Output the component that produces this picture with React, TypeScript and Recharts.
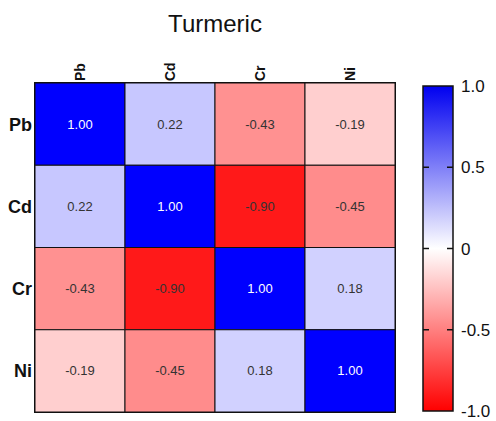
import { BarChart, Bar, XAxis, YAxis, Cell, LabelList, ReferenceArea } from 'recharts';

const title = 'Turmeric';
const elements = ['Pb', 'Cd', 'Cr', 'Ni'];
// correlation matrix, rows top to bottom, columns left to right
const pbRow = [1.0, 0.22, -0.43, -0.19];
const cdRow = [0.22, 1.0, -0.9, -0.45];
const crRow = [-0.43, -0.9, 1.0, 0.18];
const niRow = [-0.19, -0.45, 0.18, 1.0];
const matrix = [pbRow, cdRow, crRow, niRow];

const scaleTicks = [-1, -0.5, 0, 0.5, 1];
const innerTicks = [-0.5, 0, 0.5];
const rowTicks = [0.5, 1.5, 2.5, 3.5];

const FONT = '"Liberation Sans", Arial, Helvetica, sans-serif';

// each cell takes one unit of the stack
const table = elements.map((name) => {
  const d: Record<string, string | number> = { name };
  elements.forEach((r) => (d[r] = 1));
  return d;
});
const scaleData = [{ name: 'scale', span: [-1, 1] }];

function cellColor(v: number) {
  if (v >= 0) {
    const c = Math.round(255 * (1 - v));
    return `rgb(${c},${c},255)`;
  }
  const c = Math.round(255 * (1 + v));
  return `rgb(255,${c},${c})`;
}

function ColumnTick(props: any) {
  const { x, y, payload } = props;
  return (
    <text
      x={x}
      y={y}
      transform={`rotate(-90, ${x}, ${y})`}
      textAnchor="start"
      dominantBaseline="central"
      fontSize={14}
      fontWeight="bold"
      fontFamily={FONT}
      fill="#111"
    >
      {payload.value}
    </text>
  );
}

// gradient bar with small inward tick marks on both sides
function ScaleBar(props: any) {
  const { x, y, width, height } = props;
  const tickLen = 6;
  return (
    <g>
      <rect x={x} y={y} width={width} height={height} fill="url(#corrGrad)" stroke="#111" strokeWidth={1.5} />
      {innerTicks.map((t) => {
        const ty = y + (height * (1 - t)) / 2;
        return (
          <g key={t}>
            <line x1={x} x2={x + tickLen} y1={ty} y2={ty} stroke="#111" strokeWidth={1.5} />
            <line x1={x + width - tickLen} x2={x + width} y1={ty} y2={ty} stroke="#111" strokeWidth={1.5} />
          </g>
        );
      })}
    </g>
  );
}

function Heatmap() {
  return (
    <BarChart
      width={400}
      height={421}
      data={table}
      margin={{ top: 53, right: 5, left: 5, bottom: 9 }}
      barCategoryGap={0}
      barGap={0}
    >
      <XAxis
        dataKey="name"
        orientation="top"
        height={30}
        axisLine={false}
        tickLine={false}
        tickSize={0}
        tickMargin={2}
        interval={0}
        tick={<ColumnTick />}
      />
      <YAxis
        type="number"
        domain={[0, 4]}
        reversed
        ticks={rowTicks}
        width={30}
        axisLine={false}
        tickLine={false}
        tickSize={0}
        tickMargin={3}
        tickFormatter={(v: number) => elements[Math.floor(v)]}
        tick={{ fontSize: 18, fontWeight: 'bold', fill: '#111', fontFamily: FONT }}
      />
      {elements.map((row, i) => (
        <Bar
          key={row}
          dataKey={row}
          stackId="m"
          stroke="#111"
          strokeWidth={1}
          isAnimationActive={false}
        >
          {elements.map((col, j) => (
            <Cell key={col} fill={cellColor(matrix[i][j])} />
          ))}
          <LabelList
            dataKey={row}
            content={(p: any) => {
              const v = matrix[i][p.index];
              return (
                <text
                  x={p.x + p.width / 2}
                  y={p.y + p.height / 2}
                  textAnchor="middle"
                  dominantBaseline="central"
                  fontSize={13}
                  fontFamily={FONT}
                  fill={v > 0.6 ? '#fff' : '#333'}
                >
                  {v.toFixed(2)}
                </text>
              );
            }}
          />
        </Bar>
      ))}
      <ReferenceArea y1={0} y2={4} fill="none" stroke="#111" strokeWidth={2} fillOpacity={0} />
    </BarChart>
  );
}

function ColorScale() {
  return (
    <BarChart
      width={86}
      height={421}
      data={scaleData}
      margin={{ top: 86, right: 2, left: 13, bottom: 10 }}
      barCategoryGap={0}
    >
      <defs>
        <linearGradient id="corrGrad" x1="0" y1="0" x2="0" y2="1">
          <stop offset="0%" stopColor="#0000f0" />
          <stop offset="50%" stopColor="#ffffff" />
          <stop offset="100%" stopColor="#ff0000" />
        </linearGradient>
      </defs>
      <XAxis dataKey="name" hide />
      <Bar dataKey="span" shape={<ScaleBar />} isAnimationActive={false} />
      <YAxis
        orientation="right"
        type="number"
        domain={[-1, 1]}
        ticks={scaleTicks}
        width={41}
        axisLine={false}
        tickLine={false}
        tickSize={0}
        tickMargin={8}
        tickFormatter={(v: number) => (v === 0 ? '0' : v.toFixed(1))}
        tick={{ fontSize: 17, fill: '#111', fontFamily: FONT, textAnchor: 'start' }}
      />
    </BarChart>
  );
}

export default function App() {
  return (
    <div style={{ position: 'absolute', left: 0, top: 0, width: 496, height: 421, background: '#fff' }}>
      <div
        style={{
          position: 'absolute',
          left: 0,
          top: 12,
          width: 430,
          textAlign: 'center',
          fontFamily: FONT,
          fontSize: 24,
          lineHeight: '24px',
          color: '#111',
        }}
      >
        {title}
      </div>
      <div style={{ position: 'absolute', left: 0, top: 0 }}>
        <Heatmap />
      </div>
      <div style={{ position: 'absolute', left: 410, top: 0 }}>
        <ColorScale />
      </div>
    </div>
  );
}
